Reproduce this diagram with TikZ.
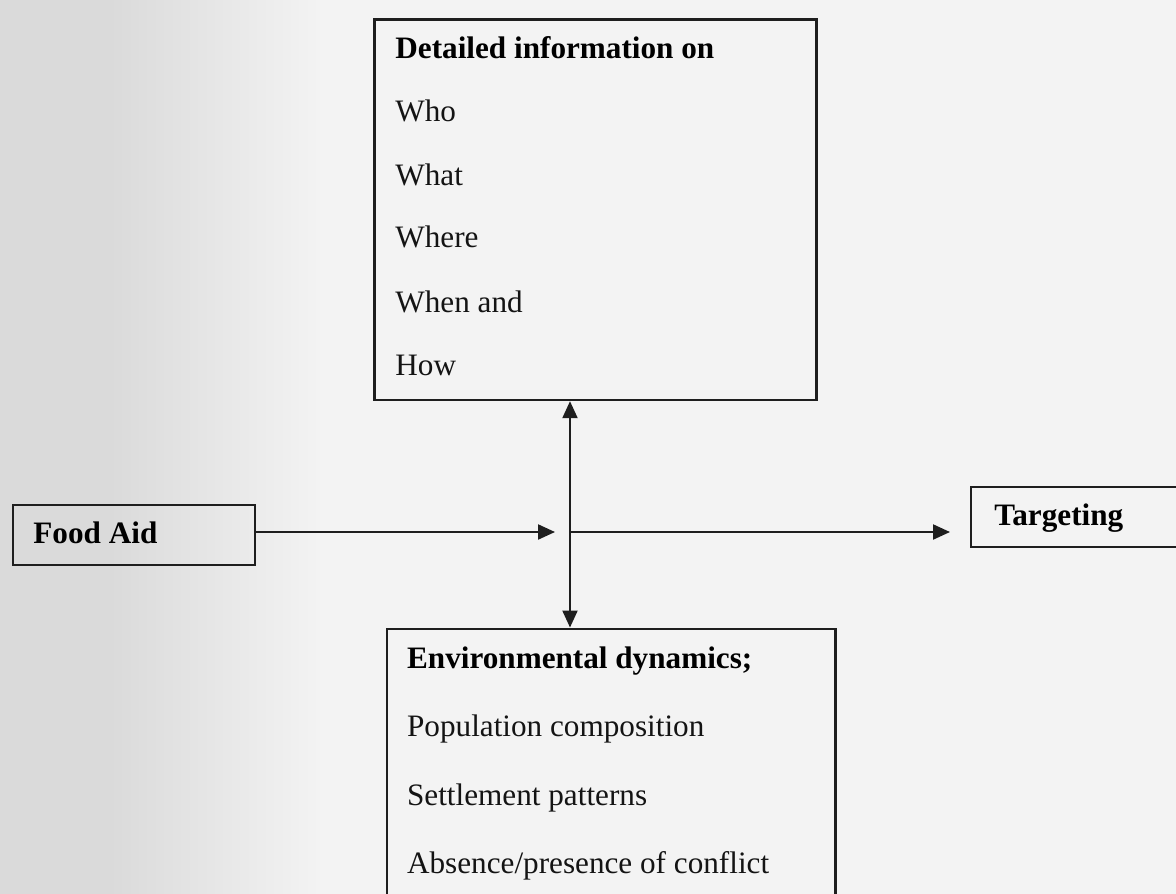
\documentclass[tikz,border=0pt]{standalone}
\usepackage{fontspec}
\setmainfont{Liberation Serif}
\usetikzlibrary{arrows.meta}
\definecolor{bgc}{RGB}{243,243,243}
\definecolor{bgl}{RGB}{218,218,218}
\definecolor{ink}{RGB}{30,30,30}
\begin{document}
\begin{tikzpicture}[x=0.5pt,y=-0.5pt,
  box/.style={draw=ink, line width=1.1pt, inner sep=0pt, anchor=north west},
  lbl/.style={anchor=base west, inner sep=0pt, text=black!92, font=\fontsize{15.6}{18}\selectfont},
  hd/.style={anchor=base west, inner sep=0pt, text=black, font=\fontsize{15.6}{18}\selectfont\bfseries},
  arr/.style={draw=ink, line width=1.1pt, -{Triangle[length=8.5pt,width=7.5pt]}},
  darr/.style={draw=ink, line width=1.1pt, {Triangle[length=8.5pt,width=7.5pt]}-{Triangle[length=8.5pt,width=7.5pt]}},
]
\useasboundingbox (0,0) rectangle (1176,893);
\clip (0,0) rectangle (1176,893);
% scanned page background
\fill[bgc] (-10,-10) rectangle (1186,903);
\fill[bgl] (-10,-10) rectangle (110,903);
\shade[left color=bgl, right color=bgc] (109,-10) rectangle (320,903);

% boxes
\node[box, minimum width=221pt, minimum height=190.25pt] (info) at (373.3,18.5) {};
\node[box, minimum width=121pt, minimum height=30.25pt] (food) at (12,503.5) {};
\node[box, minimum width=110pt, minimum height=30pt] (tgt) at (970,486) {};
\node[box, minimum width=224.15pt, minimum height=141.25pt] (env) at (386,627.5) {};

% texts
\node[hd] (t0) at (395,59) {Detailed information on};
\node[lbl] (t1) at (395,122) {Who};
\node[lbl] (t2) at (395,185) {What};
\node[lbl] (t3) at (395,248) {Where};
\node[lbl] (t4) at (395,312) {When and};
\node[lbl] (t5) at (395,375) {How};

\node[hd] (foodtxt) at (33,543) {Food Aid};
\node[hd] (tgttxt) at (994,525) {Targeting};

\node[hd] (e0) at (406.7,668) {Environmental dynamics;};
\node[lbl] (e1) at (406.7,736.5) {Population composition};
\node[lbl] (e2) at (406.7,805) {Settlement patterns};
\node[lbl] (e3) at (406.7,873) {Absence/presence of conflict};

% connectors
\coordinate (j) at (570,532);
\draw[arr, shorten >=7.5pt] (food.east |- j) -- (j);
\draw[arr, shorten >=10pt] (j) -- (tgt.west |- j);
\draw[darr] (info.south -| j) -- (env.north -| j);
\end{tikzpicture}
\end{document}
